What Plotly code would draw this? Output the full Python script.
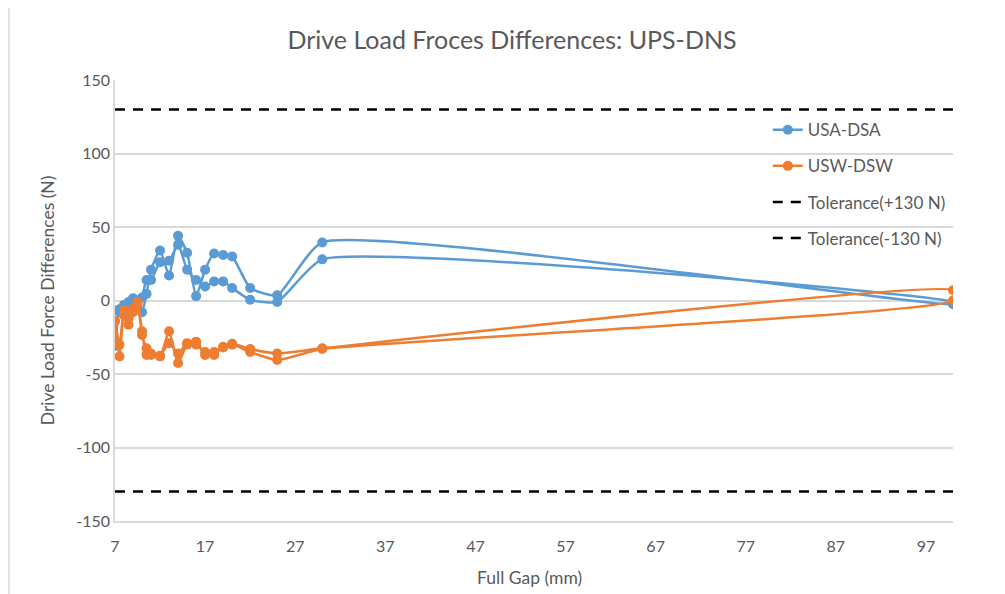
#%% imports

import plotly.graph_objects as go

#%% data

# full gap positions, measured going out then back again
gap_out = [7, 7.5, 8, 8.5, 9, 9.5, 10, 10.5, 11, 12, 13, 14, 15, 16, 17, 18, 19, 20, 22, 25, 30, 100]
gap_back = gap_out[::-1]

usa_dsa_out = [-31, -6, -3, -1, 1.5, 0, -8, 4.5, 21, 34, 17, 44, 32.5, 3, 21, 32, 31, 30, 8.5, 3.5, 39.5, -2.5]
usa_dsa_back = [-1, 28, -1, 0.5, 8.5, 13, 13, 9.5, 14, 21, 38, 27, 26, 14, 14, 2, -5, -2, -3, -4, -7, -7]

usw_dsw_out = [-14, -30, -6.5, -16.5, -5.5, -3, -23.5, -32.5, -37, -38, -21, -42.5, -30, -28, -37, -37, -31.5, -29.5, -33, -36, -32.5, 7]
usw_dsw_back = [0, -33, -40.5, -35, -30, -32, -35, -35, -30, -29, -36, -29, -37.5, -36, -37, -21, -1, -8, -12, -10, -38, -14]

tolerance_hi = 130
tolerance_lo = -130
x_range = [7, 100]
y_ticks = [-150, -100, -50, 0, 50, 100, 150]

#%% figure

blue = '#5B9BD5'
orange = '#ED7D31'
grey_txt = '#595959'
grid = '#d9d9d9'

fig = go.Figure()

fig.add_trace(go.Scatter(x=gap_out + gap_back, y=usa_dsa_out + usa_dsa_back,
                         name='USA-DSA', mode='lines+markers', legendgroup='a',
                         line=dict(color=blue, width=2.5, shape='spline', smoothing=0.5),
                         marker=dict(color=blue, size=10)))

fig.add_trace(go.Scatter(x=gap_out + gap_back, y=usw_dsw_out + usw_dsw_back,
                         name='USW-DSW', mode='lines+markers', legendgroup='b',
                         line=dict(color=orange, width=2.5, shape='spline', smoothing=0.5),
                         marker=dict(color=orange, size=10)))

fig.add_trace(go.Scatter(x=x_range, y=[tolerance_hi]*2, name='Tolerance(+130 N)',
                         mode='lines', legendgroup='c',
                         line=dict(color='black', width=2.5, dash='10px,8px')))

fig.add_trace(go.Scatter(x=x_range, y=[tolerance_lo]*2, name='Tolerance(-130 N)',
                         mode='lines', legendgroup='d',
                         line=dict(color='black', width=2.5, dash='10px,8px')))

# the page adds an 8px body margin, so the margins are offset by it
fig.update_layout(
  width=1005, height=594,
  paper_bgcolor='white', plot_bgcolor='white',
  font=dict(family='Lato, Open Sans, sans-serif', color=grey_txt, size=16),
  title=dict(text='Drive Load Froces Differences: UPS-DNS', x=0.5015, xref='container',
             xanchor='center', y=0.946, yref='container', yanchor='middle',
             font=dict(size=25, color=grey_txt)),
  margin=dict(l=107, r=60, t=72, b=81, autoexpand=False),
  legend=dict(x=0.779, y=0.927, xanchor='left', yanchor='top',
              bgcolor='rgba(0,0,0,0)', tracegroupgap=11,
              font=dict(size=17, color=grey_txt)),
  showlegend=True,
)

fig.update_xaxes(range=x_range, tick0=7, dtick=10, showgrid=False,
                 showline=True, linecolor=grid, linewidth=1.5,
                 zeroline=False, ticks='', automargin=False,
                 ticklabelstandoff=10, tickfont=dict(size=16))

fig.update_yaxes(range=[-150, 150], tickvals=y_ticks, ticktext=[str(v) for v in y_ticks],
                 showgrid=True, gridcolor=grid, gridwidth=1.5,
                 showline=True, linecolor=grid, linewidth=1.5,
                 zeroline=False, ticks='', automargin=False,
                 tickfont=dict(size=16))

# axis titles
fig.add_annotation(text='Full Gap (mm)', xref='paper', yref='paper', x=0.495, y=-0.127,
                   xanchor='center', yanchor='middle',
                   showarrow=False, font=dict(size=17.5, color=grey_txt))
fig.add_annotation(text='Drive Load Force Differences (N)', xref='paper', yref='paper',
                   x=-0.081, y=0.501, xanchor='center', yanchor='middle',
                   textangle=-90, showarrow=False,
                   font=dict(size=17.5, color=grey_txt))

# chart border (left edge visible in the original)
fig.add_shape(type='line', xref='paper', yref='paper', x0=-0.1265, x1=-0.1265, y0=-0.2, y1=1.2,
              line=dict(color=grid, width=1.5))

fig.write_html("out.html")
